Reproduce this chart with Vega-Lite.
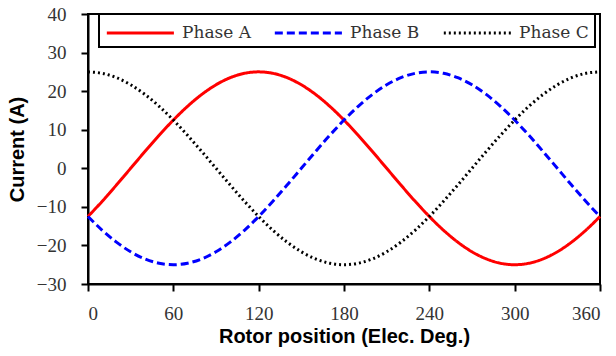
{
  "$schema": "https://vega.github.io/schema/vega-lite/v6.json",
  "width": 512,
  "height": 270,
  "autosize": {"type": "none"},
  "padding": {"left": 88, "top": 14, "right": 16, "bottom": 72},
  "background": "white",
  "data": {
    "values": [
      {"x": 0, "Phase A": -12.5, "Phase B": -12.5, "Phase C": 25},
      {"x": 10, "Phase A": -8.55, "Phase B": -16.07, "Phase C": 24.62},
      {"x": 20, "Phase A": -4.34, "Phase B": -19.15, "Phase C": 23.49},
      {"x": 30, "Phase A": 0, "Phase B": -21.65, "Phase C": 21.65},
      {"x": 40, "Phase A": 4.34, "Phase B": -23.49, "Phase C": 19.15},
      {"x": 50, "Phase A": 8.55, "Phase B": -24.62, "Phase C": 16.07},
      {"x": 60, "Phase A": 12.5, "Phase B": -25, "Phase C": 12.5},
      {"x": 70, "Phase A": 16.07, "Phase B": -24.62, "Phase C": 8.55},
      {"x": 80, "Phase A": 19.15, "Phase B": -23.49, "Phase C": 4.34},
      {"x": 90, "Phase A": 21.65, "Phase B": -21.65, "Phase C": 0},
      {"x": 100, "Phase A": 23.49, "Phase B": -19.15, "Phase C": -4.34},
      {"x": 110, "Phase A": 24.62, "Phase B": -16.07, "Phase C": -8.55},
      {"x": 120, "Phase A": 25, "Phase B": -12.5, "Phase C": -12.5},
      {"x": 130, "Phase A": 24.62, "Phase B": -8.55, "Phase C": -16.07},
      {"x": 140, "Phase A": 23.49, "Phase B": -4.34, "Phase C": -19.15},
      {"x": 150, "Phase A": 21.65, "Phase B": 0, "Phase C": -21.65},
      {"x": 160, "Phase A": 19.15, "Phase B": 4.34, "Phase C": -23.49},
      {"x": 170, "Phase A": 16.07, "Phase B": 8.55, "Phase C": -24.62},
      {"x": 180, "Phase A": 12.5, "Phase B": 12.5, "Phase C": -25},
      {"x": 190, "Phase A": 8.55, "Phase B": 16.07, "Phase C": -24.62},
      {"x": 200, "Phase A": 4.34, "Phase B": 19.15, "Phase C": -23.49},
      {"x": 210, "Phase A": 0, "Phase B": 21.65, "Phase C": -21.65},
      {"x": 220, "Phase A": -4.34, "Phase B": 23.49, "Phase C": -19.15},
      {"x": 230, "Phase A": -8.55, "Phase B": 24.62, "Phase C": -16.07},
      {"x": 240, "Phase A": -12.5, "Phase B": 25, "Phase C": -12.5},
      {"x": 250, "Phase A": -16.07, "Phase B": 24.62, "Phase C": -8.55},
      {"x": 260, "Phase A": -19.15, "Phase B": 23.49, "Phase C": -4.34},
      {"x": 270, "Phase A": -21.65, "Phase B": 21.65, "Phase C": 0},
      {"x": 280, "Phase A": -23.49, "Phase B": 19.15, "Phase C": 4.34},
      {"x": 290, "Phase A": -24.62, "Phase B": 16.07, "Phase C": 8.55},
      {"x": 300, "Phase A": -25, "Phase B": 12.5, "Phase C": 12.5},
      {"x": 310, "Phase A": -24.62, "Phase B": 8.55, "Phase C": 16.07},
      {"x": 320, "Phase A": -23.49, "Phase B": 4.34, "Phase C": 19.15},
      {"x": 330, "Phase A": -21.65, "Phase B": 0, "Phase C": 21.65},
      {"x": 340, "Phase A": -19.15, "Phase B": -4.34, "Phase C": 23.49},
      {"x": 350, "Phase A": -16.07, "Phase B": -8.55, "Phase C": 24.62},
      {"x": 360, "Phase A": -12.5, "Phase B": -12.5, "Phase C": 25}
    ]
  },
  "transform": [{"fold": ["Phase A", "Phase B", "Phase C"], "as": ["phase", "current"]}],
  "mark": {"type": "line", "interpolate": "monotone", "strokeWidth": 3},
  "encoding": {
    "x": {
      "field": "x", "type": "quantitative",
      "scale": {"domain": [0, 360], "nice": false, "zero": false},
      "axis": {"values": [0, 60, 120, 180, 240, 300, 360], "title": "Rotor position (Elec. Deg.)"}
    },
    "y": {
      "field": "current", "type": "quantitative",
      "scale": {"domain": [-30, 40], "nice": false},
      "axis": {"values": [-30, -20, -10, 0, 10, 20, 30, 40], "title": "Current (A)"}
    },
    "color": {
      "field": "phase", "type": "nominal",
      "scale": {"domain": ["Phase A", "Phase B", "Phase C"], "range": ["#ff0000", "#0000ff", "#000000"]},
      "legend": {"title": null}
    },
    "strokeDash": {
      "field": "phase", "type": "nominal",
      "scale": {"domain": ["Phase A", "Phase B", "Phase C"], "range": [[1, 0], [8, 4], [2, 3]]},
      "legend": {"title": null}
    }
  },
  "config": {
    "view": {"stroke": "black", "strokeWidth": 2},
    "axis": {
      "grid": false,
      "domainColor": "black", "domainWidth": 2,
      "tickColor": "black", "tickWidth": 2, "tickSize": 7,
      "labelFont": "Liberation Serif", "labelFontSize": 19, "labelColor": "#333",
      "titleFont": "Liberation Sans", "titleFontSize": 20, "titleFontWeight": "bold", "titleColor": "black"
    },
    "axisY": {"titlePadding": 9, "labelPadding": 15},
    "axisX": {"titlePadding": 3, "labelPadding": 13},
    "legend": {
      "orient": "none", "legendX": 11, "legendY": 0, "direction": "horizontal",
      "strokeColor": "black", "strokeWidth": 2, "fillColor": "white",
      "padding": 6,
      "symbolType": "M-1,0H5", "symbolSize": 500, "symbolStrokeWidth": 3,
      "labelFont": "DejaVu Serif", "labelFontSize": 17, "labelColor": "#333", "labelOffset": 51,
      "columnPadding": 17
    }
  }
}
